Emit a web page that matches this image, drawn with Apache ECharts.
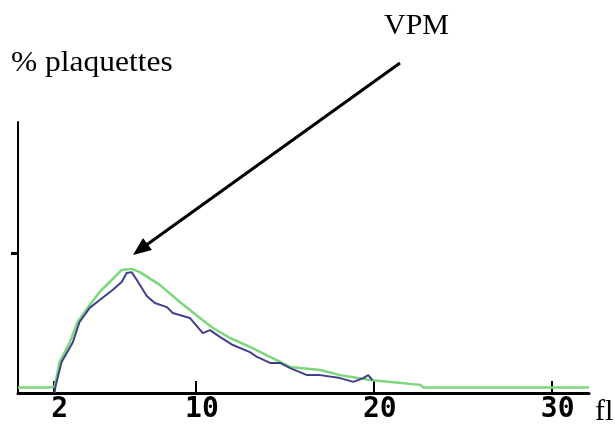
<!DOCTYPE html>
<html>
<head>
<meta charset="utf-8">
<script src="https://cdn.jsdelivr.net/npm/echarts@6/dist/echarts.min.js"></script>
<style>
  html, body { margin: 0; padding: 0; background: #fff; }
  #chart { width: 615px; height: 425px; }
</style>
</head>
<body>
<div id="chart"></div>
<script>
// volume plaquettaire (fl) / % plaquettes
const xTicks = [2, 10, 20, 30];
const yMark = [51.7];

// courbe verte (lissée)
const greenX = [0, 1.7, 2.06, 2.34, 2.9, 3.35, 4.03, 4.59, 5.27, 5.83, 6.39, 6.85, 7.97, 9.1, 10.23, 10.96, 11.92, 13.04, 14.17, 15.3, 16.99, 18.11, 19.8, 20.93, 22.62, 22.79, 32.1];
const greenY = [2, 2, 2.3, 11.4, 18.5, 26.2, 32.5, 37.3, 41.7, 45.4, 45.8, 44.6, 39.9, 33.6, 27.7, 24.0, 20.3, 17.0, 13.3, 9.6, 8.5, 6.6, 4.8, 4.1, 3.0, 2.0, 2.0];

// courbe bleue (brute)
const blueX = [2.06, 2.1, 2.45, 3.07, 3.46, 4.03, 4.59, 5.32, 5.83, 6.11, 6.39, 6.68, 7.24, 7.69, 8.37, 8.7, 9.66, 10.39, 10.79, 11.35, 12.08, 13.04, 13.44, 14.17, 14.73, 15.3, 16.25, 16.99, 18.11, 18.85, 19.41, 19.69, 19.92];
const blueY = [0, 2.2, 11.4, 18.5, 26.2, 31.4, 34.3, 38.0, 41.0, 44.3, 44.6, 41.7, 35.8, 33.2, 31.7, 29.5, 27.7, 22.1, 23.2, 20.7, 17.7, 15.1, 13.3, 11.1, 11.1, 9.2, 6.6, 6.6, 5.5, 4.1, 5.5, 6.6, 4.8];

const zip = (xs, ys) => xs.map((x, i) => [x, ys[i]]);

const chart = echarts.init(document.getElementById('chart'));
const serif = '"Liberation Serif", "DejaVu Serif", serif';

const option = {
  animation: false,
  grid: { left: 18, right: 26, top: 122, bottom: 32 },
  xAxis: {
    type: 'value',
    min: 0,
    max: 32.1,
    axisLine: { lineStyle: { color: '#000', width: 3 } },
    axisTick: {
      customValues: xTicks,
      inside: true,
      length: 12,
      lineStyle: { color: '#000', width: 2 }
    },
    axisLabel: {
      customValues: xTicks,
      margin: 3,
      padding: [0, 0, 0, 12],
      color: '#000',
      fontFamily: '"DejaVu Sans Mono", monospace',
      fontWeight: 'bold',
      fontSize: 28
    },
    splitLine: { show: false }
  },
  yAxis: {
    type: 'value',
    min: 0,
    max: 100,
    axisLine: { show: true, lineStyle: { color: '#000', width: 2 } },
    axisTick: {
      customValues: yMark,
      length: 7,
      lineStyle: { color: '#000', width: 3 }
    },
    axisLabel: { show: false },
    splitLine: { show: false }
  },
  series: [
    {
      name: 'lissée',
      type: 'line',
      data: zip(greenX, greenY),
      symbol: 'none',
      lineStyle: { color: '#7cd67c', width: 2.5 },
      z: 2
    },
    {
      name: 'brute',
      type: 'line',
      data: zip(blueX, blueY),
      symbol: 'none',
      lineStyle: { color: '#3f3f8c', width: 2 },
      z: 3
    }
  ],
  graphic: [
    {
      type: 'text', left: 11, top: 48, scaleX: 1.05,
      style: { text: '% plaquettes', font: '30px ' + serif, fill: '#000' }
    },
    {
      type: 'text', left: 384, top: 11,
      style: { text: 'VPM', font: '30px ' + serif, fill: '#000' }
    },
    {
      type: 'text', left: 595, top: 397,
      style: { text: 'fl', font: '30px ' + serif, fill: '#000' }
    },
    // flèche vers le VPM
    {
      type: 'line',
      shape: { x1: 400, y1: 63, x2: 145, y2: 246 },
      style: { stroke: '#000', lineWidth: 3 }
    },
    {
      type: 'polygon',
      shape: { points: [[133, 255], [152, 250], [143, 238]] },
      style: { fill: '#000' }
    }
  ]
};

chart.setOption(option);
</script>
</body>
</html>
